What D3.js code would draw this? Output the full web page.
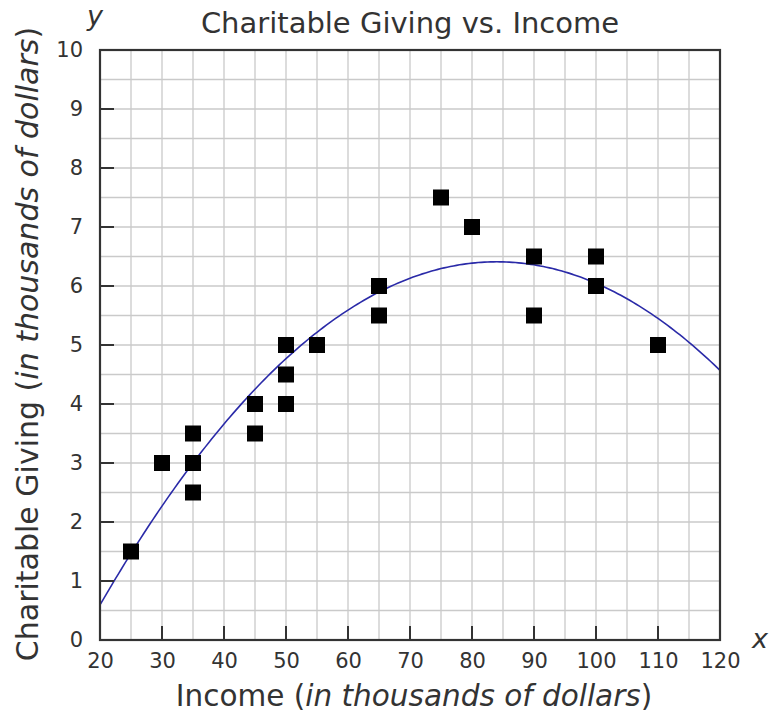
<!DOCTYPE html>
<html><head><meta charset="utf-8">
<script src="https://cdn.jsdelivr.net/npm/d3@7"></script>
<style>body{margin:0;background:#fff}</style>
</head><body><svg id="c" width="770" height="724"></svg>
<script>
const incomes = [25,30,35,35,35,45,45,50,50,50,55,65,65,75,80,90,90,100,100,110];
const giving  = [1.5,3,3.5,3,2.5,4,3.5,5,4.5,4,5,6,5.5,7.5,7,6.5,5.5,6.5,6,5];
const xTicks = [20,30,40,50,60,70,80,90,100,110,120];
const yTicks = [0,1,2,3,4,5,6,7,8,9,10];
// fitted curve y = a*(x-h)^2 + k, coefficients
const curveA = -0.00142, curveH = 84, curveK = 6.41;
const curveX = d3.range(20, 120.01, 0.5);

const svg = d3.select("#c");
const FONT = "'DejaVu Sans', Verdana, sans-serif";
const x = d3.scaleLinear().domain([20,120]).range([100,720]);
const y = d3.scaleLinear().domain([0,10]).range([640,50]);

// grid
const g = svg.append("g");
g.selectAll(".gx").data(d3.range(25,120,5)).join("line")
  .attr("x1",d=>x(d)).attr("x2",d=>x(d)).attr("y1",y(0)).attr("y2",y(10))
  .attr("stroke","#cacaca").attr("stroke-width",1.3);
g.selectAll(".gy").data(d3.range(0.5,10,0.5)).join("line")
  .attr("y1",d=>y(d)).attr("y2",d=>y(d)).attr("x1",x(20)).attr("x2",x(120))
  .attr("stroke","#cacaca").attr("stroke-width",1.3);

// curve
const line = d3.line().x(d=>x(d)).y(d=>y(curveA*(d-curveH)*(d-curveH)+curveK));
svg.append("path").datum(curveX).attr("d",line).attr("fill","none")
  .attr("stroke","#2a2aa8").attr("stroke-width",1.6);

// frame
svg.append("rect").attr("x",x(20)).attr("y",y(10)).attr("width",x(120)-x(20)).attr("height",y(0)-y(10))
  .attr("fill","none").attr("stroke","#333").attr("stroke-width",2.2);

// axes
const xAxis = d3.axisBottom(x).tickValues(xTicks).tickSize(0).tickPadding(13);
const xa = svg.append("g").attr("transform",`translate(0,${y(0)})`).call(xAxis);
xa.select(".domain").remove();
xa.selectAll("text").attr("font-family",FONT).attr("font-size",21).attr("fill","#333");
const yAxis = d3.axisLeft(y).tickValues(yTicks).tickSize(0).tickPadding(17);
const ya = svg.append("g").attr("transform",`translate(${x(20)},0)`).call(yAxis);
ya.select(".domain").remove();
ya.selectAll("text").attr("font-family",FONT).attr("font-size",21).attr("fill","#333");

// inner tick marks
svg.selectAll(".tx").data(xTicks.slice(1,-1)).join("line")
  .attr("x1",d=>x(d)).attr("x2",d=>x(d)).attr("y1",y(0)).attr("y2",y(0)-14)
  .attr("stroke","#333").attr("stroke-width",2);
svg.selectAll(".ty").data(yTicks.slice(1,-1)).join("line")
  .attr("y1",d=>y(d)).attr("y2",d=>y(d)).attr("x1",x(20)).attr("x2",x(20)+14)
  .attr("stroke","#333").attr("stroke-width",2);

// points
const S = 16;
svg.selectAll(".pt").data(incomes.map((v,i)=>[v,giving[i]])).join("rect")
  .attr("x",d=>x(d[0])-S/2).attr("y",d=>y(d[1])-S/2).attr("width",S).attr("height",S)
  .attr("fill","#000");

// title
svg.append("text").attr("x",410).attr("y",33).attr("text-anchor","middle")
  .attr("font-family",FONT).attr("font-size",29).attr("fill","#333")
  .text("Charitable Giving vs. Income");

// axis letters
svg.append("text").attr("x",95).attr("y",25).attr("text-anchor","middle")
  .attr("font-family",FONT).attr("font-size",27).attr("font-style","italic").attr("fill","#333").text("y");
svg.append("text").attr("x",760).attr("y",648).attr("text-anchor","middle")
  .attr("font-family",FONT).attr("font-size",27).attr("font-style","italic").attr("fill","#333").text("x");

// x label
const xl = svg.append("text").attr("x",414).attr("y",706).attr("text-anchor","middle")
  .attr("font-family",FONT).attr("font-size",29.5).attr("fill","#333");
xl.append("tspan").text("Income (");
xl.append("tspan").attr("font-style","italic").text("in thousands of dollars");
xl.append("tspan").text(")");

// y label
const yl = svg.append("text").attr("transform","translate(38,344) rotate(-90)").attr("text-anchor","middle")
  .attr("font-family",FONT).attr("font-size",30).attr("fill","#333");
yl.append("tspan").text("Charitable Giving (");
yl.append("tspan").attr("font-style","italic").text("in thousands of dollars");
yl.append("tspan").text(")");
</script></body></html>
